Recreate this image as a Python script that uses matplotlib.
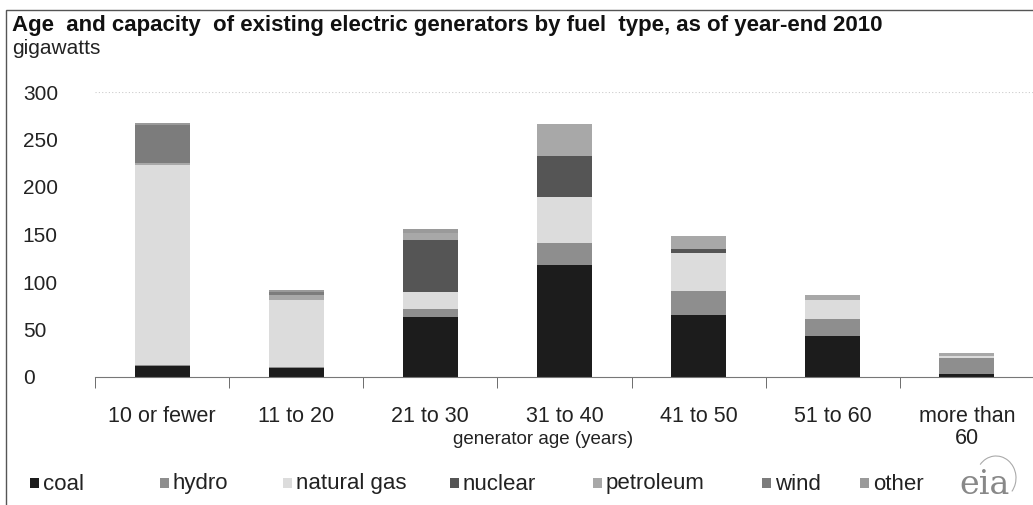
import matplotlib
matplotlib.use("Agg")
import matplotlib.pyplot as plt
import numpy as np
from matplotlib.patches import Rectangle, Arc

categories = ["10 or fewer", "11 to 20", "21 to 30", "31 to 40", "41 to 50", "51 to 60", "more than\n60"]
coal =        [12, 10, 63, 118, 65, 43, 3]
hydro =       [1,  1,  9,  23,  26, 18, 17]
natural_gas = [210, 70, 17, 49, 40, 20, 2]
nuclear =     [0,  0,  55, 43,  4,  0,  0]
petroleum =   [2,  5,  8,  33,  13, 5,  3]
wind =        [40, 3,  0,  0,   0,  0,  0]
other =       [2,  3,  4,  0,   0,  0,  0]
series_names = ["coal", "hydro", "natural gas", "nuclear", "petroleum", "wind", "other"]
yticks = [0, 50, 100, 150, 200, 250, 300]

series = [coal, hydro, natural_gas, nuclear, petroleum, wind, other]
colors = ["#1c1c1c", "#8e8e8e", "#dcdcdc", "#555555", "#a8a8a8", "#7c7c7c", "#9a9a9a"]

plt.rcParams['font.family'] = ['Liberation Sans', 'DejaVu Sans']
fig = plt.figure(figsize=(10.33, 5.05), dpi=100)
ax = fig.add_axes([95/1033, 1-377/505, 939/1033, (377-92)/505])

x = np.arange(len(categories))
bottom = np.zeros(len(categories))
for vals, c in zip(series, colors):
    ax.bar(x, vals, bottom=bottom, width=0.41, color=c, edgecolor='none')
    bottom += np.array(vals)

ax.set_xlim(-0.5, len(categories) - 0.5)
ax.set_ylim(0, 300)
for s in ["left", "right", "top"]:
    ax.spines[s].set_visible(False)
ax.spines["bottom"].set_color("#777777")
ax.axhline(300, color="#cccccc", lw=0.8, ls=(0, (1, 2)))
ax.set_yticks(yticks)
ax.set_yticklabels([str(v) for v in yticks], fontsize=15, color="#222222")
ax.tick_params(axis='y', length=0, pad=52)
for lab in ax.get_yticklabels():
    lab.set_horizontalalignment('left')
ax.set_xticks(x)
ax.set_xticklabels(categories, fontsize=15.5, color="#222222", linespacing=1.05)
ax.tick_params(axis='x', length=0, pad=21)
ax.set_xticks(np.arange(-0.5, len(categories), 1.0), minor=True)
ax.tick_params(axis='x', which='minor', length=8, color="#555555", direction='out')

fig.text(12/1033, 1-26/505, "Age  and capacity  of existing electric generators by fuel  type, as of year-end 2010",
         fontsize=16, fontweight='bold', va='center', ha='left', color="#111111")
fig.text(12/1033, 1-49/505, "gigawatts", fontsize=15, va='center', ha='left', color="#222222")
fig.text(543/1033, 1-440/505, "generator age (years)", fontsize=13.5, va='center', ha='center', color="#222222")

# legend
leg_x_marker = [30, 160, 283, 450, 593, 762, 860]
for name, c, mx in zip(series_names, colors, leg_x_marker):
    fig.patches.append(Rectangle((mx/1033, 1-488/505), 9/1033, 10/505, transform=fig.transFigure,
                                 facecolor=c, edgecolor='none'))
    fig.text((mx+13)/1033, 1-484/505, name, fontsize=16, va='center', ha='left', color="#222222")

# eia logo
fig.text(985/1033, 1-485/505, "eia", fontsize=24, family='DejaVu Serif', color="#888888",
         va='center', ha='center')
fig.patches.append(Arc((996/1033, 1-478/505), 40/1033, 44/505, theta1=-60, theta2=120,
                       transform=fig.transFigure, color="#aaaaaa", lw=0.8))

# frame
fig.patches.append(Rectangle((6/1033, -0.01), 1.1, 1-10/505 + 0.01, transform=fig.transFigure,
                             fill=False, edgecolor="#555555", lw=1.0))

fig.savefig("out.png", dpi=100)
